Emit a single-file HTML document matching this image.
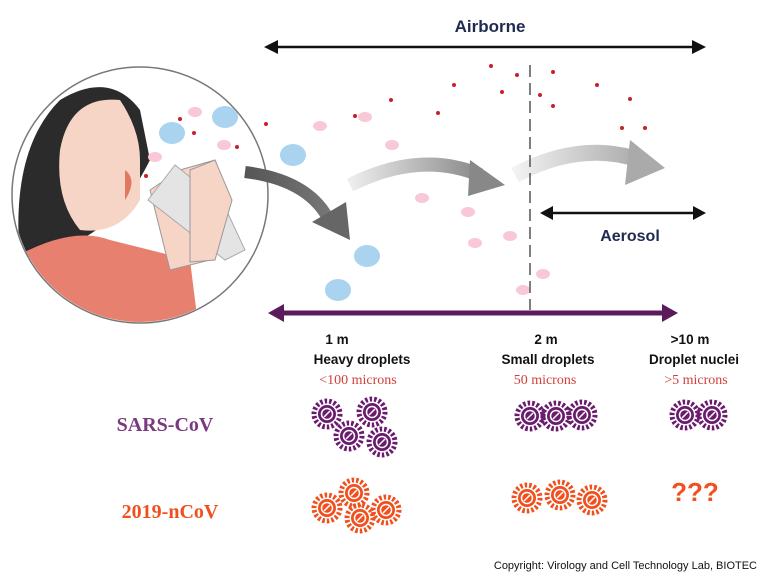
<!DOCTYPE html>
<html><head><meta charset="utf-8"><style>
html,body{margin:0;padding:0;background:#fff;}
svg{display:block;}
text{font-family:"Liberation Sans",sans-serif;}
</style></head><body>
<svg width="768" height="576" viewBox="0 0 768 576" xmlns="http://www.w3.org/2000/svg">
<defs>
<linearGradient id="g1" x1="0" x2="1"><stop offset="0" stop-color="#555"/><stop offset="1" stop-color="#777"/></linearGradient>
<linearGradient id="g2" x1="0" x2="1"><stop offset="0" stop-color="#eee"/><stop offset="1" stop-color="#888"/></linearGradient>
<linearGradient id="g3" x1="0" x2="1"><stop offset="0" stop-color="#f2f2f2"/><stop offset="1" stop-color="#aaa"/></linearGradient>
<g id="vp">
<circle r="13" fill="none" stroke="#6a1b6e" stroke-width="5" stroke-dasharray="2.5 2"/>
<circle r="9" fill="#6a1b6e"/><circle r="5.5" fill="none" stroke="#fff" stroke-width="1.5"/>
<path d="M-3 3 L3 -3" stroke="#fff" stroke-width="1.5"/>
</g>
<g id="vo">
<circle r="13" fill="none" stroke="#f0501e" stroke-width="5" stroke-dasharray="2.5 2"/>
<circle r="9" fill="#f0501e"/><circle r="5.5" fill="none" stroke="#fff" stroke-width="1.5"/>
<path d="M-3 3 L3 -3" stroke="#fff" stroke-width="1.5"/>
</g>
</defs>

<!-- person circle -->
<circle cx="140" cy="195" r="128" fill="#fff" stroke="#777" stroke-width="1.5"/>
<clipPath id="cc"><circle cx="140" cy="195" r="127"/></clipPath>
<g clip-path="url(#cc)">
<path d="M20 260 Q10 150 60 100 Q110 70 140 110 L150 160 Q120 220 80 240 Z" fill="#2b2b2b"/>
<path d="M60 150 Q70 95 120 100 Q140 130 140 160 L140 200 Q120 235 80 230 Q55 200 60 150Z" fill="#f6d5c6"/>
<path d="M125 170 Q138 180 125 200 Z" fill="#e07a5f"/>
<path d="M10 260 Q70 225 110 240 L190 260 L200 340 L0 340 Z" fill="#e88070"/>
<path d="M150 190 L180 170 L215 160 L230 200 L210 260 L170 270 Z" fill="#f6d5c6" stroke="#999" stroke-width="1"/>
<path d="M148 200 L175 165 L200 185 L210 175 L245 250 L225 260 Z" fill="#e4e4e4" stroke="#aaa" stroke-width="1"/>
<path d="M190 170 L215 160 L232 200 L215 260 L190 262 Z" fill="#f6d5c6" stroke="#999" stroke-width="1"/>
</g>
<!-- droplets in circle -->
<ellipse cx="172" cy="133" rx="13" ry="11" fill="#a9d3ef"/>
<ellipse cx="225" cy="117" rx="13" ry="11" fill="#a9d3ef"/>
<ellipse cx="195" cy="112" rx="7" ry="5" fill="#f8c8d6"/>
<ellipse cx="224" cy="145" rx="7" ry="5" fill="#f8c8d6"/>
<ellipse cx="155" cy="157" rx="7" ry="5" fill="#f8c8d6"/>
<circle cx="180" cy="119" r="2" fill="#c8202a"/><circle cx="194" cy="133" r="2" fill="#c8202a"/><circle cx="237" cy="147" r="2" fill="#c8202a"/><circle cx="146" cy="176" r="2" fill="#c8202a"/>

<!-- other droplets -->
<ellipse cx="293" cy="155" rx="13" ry="11" fill="#a9d3ef"/>
<ellipse cx="367" cy="256" rx="13" ry="11" fill="#a9d3ef"/>
<ellipse cx="338" cy="290" rx="13" ry="11" fill="#a9d3ef"/>
<g fill="#f8c8d6">
<ellipse cx="320" cy="126" rx="7" ry="5"/><ellipse cx="365" cy="117" rx="7" ry="5"/><ellipse cx="392" cy="145" rx="7" ry="5"/>
<ellipse cx="422" cy="198" rx="7" ry="5"/><ellipse cx="468" cy="212" rx="7" ry="5"/><ellipse cx="510" cy="236" rx="7" ry="5"/>
<ellipse cx="475" cy="243" rx="7" ry="5"/><ellipse cx="543" cy="274" rx="7" ry="5"/><ellipse cx="523" cy="290" rx="7" ry="5"/>
</g>
<g fill="#c8202a">
<circle cx="266" cy="124" r="2"/><circle cx="355" cy="116" r="2"/><circle cx="391" cy="100" r="2"/><circle cx="438" cy="113" r="2"/>
<circle cx="454" cy="85" r="2"/><circle cx="491" cy="66" r="2"/><circle cx="502" cy="92" r="2"/><circle cx="517" cy="75" r="2"/>
<circle cx="540" cy="95" r="2"/><circle cx="553" cy="72" r="2"/><circle cx="553" cy="106" r="2"/><circle cx="597" cy="85" r="2"/>
<circle cx="630" cy="99" r="2"/><circle cx="622" cy="128" r="2"/><circle cx="645" cy="128" r="2"/>
</g>

<!-- gray arrows -->
<path d="M245 172 Q310 180 330 222" fill="none" stroke="url(#g1)" stroke-width="12"/>
<path d="M312 222 L350 240 L346 202 Z" fill="#666"/>
<path d="M350 185 Q420 150 480 175" fill="none" stroke="url(#g2)" stroke-width="14"/>
<path d="M470 160 L505 185 L468 196 Z" fill="#888"/>
<path d="M515 175 Q580 140 640 160" fill="none" stroke="url(#g3)" stroke-width="16"/>
<path d="M630 140 L665 168 L625 185 Z" fill="#aaa"/>

<!-- dashed line -->
<line x1="530" y1="65" x2="530" y2="310" stroke="#555" stroke-width="1.5" stroke-dasharray="12 6"/>

<!-- Airborne arrow -->
<line x1="270" y1="47" x2="700" y2="47" stroke="#111" stroke-width="2.5"/>
<path d="M264 47 L278 40 L278 54 Z" fill="#111"/><path d="M706 47 L692 40 L692 54 Z" fill="#111"/>
<text x="490" y="32" font-size="17" font-weight="bold" fill="#1f2a50" text-anchor="middle">Airborne</text>
<!-- Aerosol -->
<line x1="545" y1="213" x2="700" y2="213" stroke="#111" stroke-width="2.5"/>
<path d="M540 213 L553 206 L553 220 Z" fill="#111"/><path d="M706 213 L693 206 L693 220 Z" fill="#111"/>
<text x="630" y="241" font-size="16" font-weight="bold" fill="#1f2a50" text-anchor="middle">Aerosol</text>
<!-- purple arrow -->
<line x1="280" y1="313" x2="665" y2="313" stroke="#5b1a5b" stroke-width="5"/>
<path d="M268 313 L284 304 L284 322 Z" fill="#5b1a5b"/><path d="M678 313 L662 304 L662 322 Z" fill="#5b1a5b"/>

<!-- labels -->
<g font-size="13.5" font-weight="bold" fill="#111" text-anchor="middle">
<text x="337" y="344">1 m</text><text x="362" y="364">Heavy droplets</text>
<text x="546" y="344">2 m</text><text x="548" y="364">Small droplets</text>
<text x="690" y="344">&gt;10 m</text><text x="694" y="364">Droplet nuclei</text>
</g>
<g font-size="14" fill="#d0403a" text-anchor="middle" style="font-family:'Liberation Serif',serif">
<text x="358" y="384" style="font-family:'Liberation Serif',serif">&lt;100 microns</text>
<text x="545" y="384" style="font-family:'Liberation Serif',serif">50 microns</text>
<text x="696" y="384" style="font-family:'Liberation Serif',serif">&gt;5 microns</text>
</g>
<text x="165" y="431" font-size="20" font-weight="bold" fill="#7a3a80" text-anchor="middle" style="font-family:'Liberation Serif',serif">SARS-CoV</text>
<text x="170" y="518" font-size="20" font-weight="bold" fill="#f0501e" text-anchor="middle" style="font-family:'Liberation Serif',serif">2019-nCoV</text>
<text x="695" y="501" font-size="26" font-weight="bold" fill="#f0501e" text-anchor="middle">???</text>
<text x="757" y="569" font-size="11" fill="#111" text-anchor="end">Copyright: Virology and Cell Technology Lab, BIOTEC</text>

<!-- viruses -->
<use href="#vp" x="327" y="414"/><use href="#vp" x="372" y="412"/><use href="#vp" x="349" y="436"/><use href="#vp" x="382" y="442"/>
<use href="#vo" x="327" y="508"/><use href="#vo" x="354" y="493"/><use href="#vo" x="360" y="518"/><use href="#vo" x="386" y="510"/>
<use href="#vp" x="530" y="416"/><use href="#vp" x="556" y="416"/><use href="#vp" x="582" y="415"/>
<use href="#vo" x="527" y="498"/><use href="#vo" x="560" y="495"/><use href="#vo" x="592" y="500"/>
<use href="#vp" x="685" y="415"/><use href="#vp" x="712" y="415"/>
</svg>
</body></html>
